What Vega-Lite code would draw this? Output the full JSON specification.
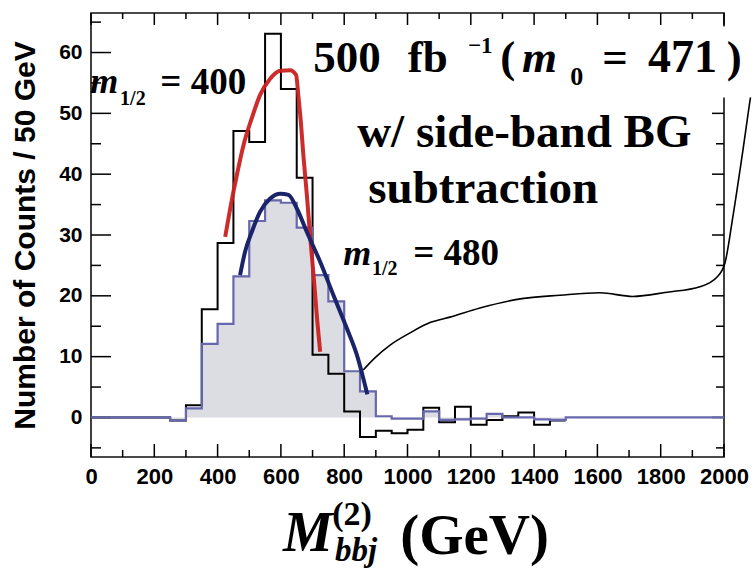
{
  "$schema": "https://vega.github.io/schema/vega-lite/v6.json",
  "width": 633,
  "height": 444,
  "autosize": {"type": "none"},
  "padding": {"left": 91, "top": 13, "right": 31, "bottom": 113},
  "background": "white",
  "config": {
    "view": {"stroke": "#111", "strokeWidth": 1.6, "fill": null},
    "scale": {"continuousPadding": 0},
    "axis": {"grid": false, "domain": false, "ticks": false,
      "labelFont": "Liberation Sans", "labelFontWeight": "bold", "labelColor": "black",
      "titleFont": "Liberation Sans", "titleFontWeight": "bold", "titleColor": "black",
      "labelOverlap": false, "labelFlush": false}
  },
  "datasets": {
    "blue": [
      {"mass": 0, "counts": 0}, {"mass": 250, "counts": -0.5}, {"mass": 300, "counts": 1.5}, {"mass": 350, "counts": 12.1},
      {"mass": 400, "counts": 15.4}, {"mass": 450, "counts": 23.2}, {"mass": 500, "counts": 32.3}, {"mass": 550, "counts": 35.7},
      {"mass": 600, "counts": 35.3}, {"mass": 650, "counts": 31.2}, {"mass": 700, "counts": 23.4}, {"mass": 750, "counts": 19.1},
      {"mass": 800, "counts": 7.6}, {"mass": 850, "counts": 4.3}, {"mass": 900, "counts": 0.2}, {"mass": 950, "counts": -0.2},
      {"mass": 1000, "counts": -0.2}, {"mass": 1050, "counts": 1.0}, {"mass": 1100, "counts": -0.4}, {"mass": 1150, "counts": -0.3},
      {"mass": 1200, "counts": -0.2}, {"mass": 1250, "counts": 0.6}, {"mass": 1300, "counts": 0}, {"mass": 1350, "counts": 0},
      {"mass": 1400, "counts": -0.3}, {"mass": 1450, "counts": -0.4}, {"mass": 1500, "counts": 0}, {"mass": 2000, "counts": 0}
    ],
    "black": [
      {"mass": 0, "counts": 0}, {"mass": 250, "counts": -0.5}, {"mass": 300, "counts": 2.0}, {"mass": 350, "counts": 17.8},
      {"mass": 400, "counts": 28.7}, {"mass": 450, "counts": 47.1}, {"mass": 500, "counts": 45.3}, {"mass": 550, "counts": 63.1},
      {"mass": 600, "counts": 54.0}, {"mass": 650, "counts": 39.4}, {"mass": 700, "counts": 10.3}, {"mass": 750, "counts": 7.2},
      {"mass": 800, "counts": 1.0}, {"mass": 850, "counts": -3.2}, {"mass": 900, "counts": -2.2}, {"mass": 950, "counts": -2.6},
      {"mass": 1000, "counts": -2.0}, {"mass": 1050, "counts": 1.6}, {"mass": 1100, "counts": -0.8}, {"mass": 1150, "counts": 1.75},
      {"mass": 1200, "counts": -1.2}, {"mass": 1250, "counts": -0.4}, {"mass": 1300, "counts": 0.2}, {"mass": 1350, "counts": 0.8},
      {"mass": 1400, "counts": -1.2}, {"mass": 1450, "counts": -0.5}, {"mass": 1500, "counts": -0.5}
    ],
    "fit400": [
      {"mass": 424, "counts": 29.7}, {"mass": 440, "counts": 34.4}, {"mass": 461, "counts": 39.9}, {"mass": 482, "counts": 44.8},
      {"mass": 508, "counts": 49.2}, {"mass": 534, "counts": 53.0}, {"mass": 566, "counts": 55.7}, {"mass": 598, "counts": 57.0},
      {"mass": 629, "counts": 57.1}, {"mass": 648, "counts": 56.3}, {"mass": 655, "counts": 53.0}, {"mass": 663, "counts": 48.6},
      {"mass": 671, "counts": 43.1}, {"mass": 682, "counts": 36.6}, {"mass": 692, "counts": 30.0}, {"mass": 705, "counts": 22.3},
      {"mass": 715, "counts": 15.8}, {"mass": 724, "counts": 10.8}
    ],
    "fit480": [
      {"mass": 471, "counts": 23.4}, {"mass": 487, "counts": 27.3}, {"mass": 508, "counts": 30.5}, {"mass": 534, "counts": 33.8},
      {"mass": 566, "counts": 36.0}, {"mass": 598, "counts": 36.8}, {"mass": 624, "counts": 36.6}, {"mass": 650, "counts": 34.4},
      {"mass": 682, "counts": 30.5}, {"mass": 724, "counts": 25.6}, {"mass": 766, "counts": 20.1}, {"mass": 808, "counts": 14.7},
      {"mass": 840, "counts": 10.3}, {"mass": 873, "counts": 3.8}
    ],
    "pointer": [
      {"mass": 860, "counts": 7.8}, {"mass": 897, "counts": 9.8}, {"mass": 945, "counts": 11.9}, {"mass": 1008, "counts": 13.9},
      {"mass": 1071, "counts": 15.6}, {"mass": 1134, "counts": 16.5}, {"mass": 1229, "counts": 18.0}, {"mass": 1356, "counts": 19.5},
      {"mass": 1482, "counts": 20.1}, {"mass": 1608, "counts": 20.5}, {"mass": 1712, "counts": 19.9}, {"mass": 1820, "counts": 20.6},
      {"mass": 1924, "counts": 21.5}, {"mass": 1978, "counts": 23.1}, {"mass": 2003, "counts": 25.4}, {"mass": 2028, "counts": 33.0},
      {"mass": 2060, "counts": 44.0}, {"mass": 2089, "counts": 54.3}, {"mass": 2098, "counts": 56.8}
    ],
    "xmajor": [{"mass": 0}, {"mass": 200}, {"mass": 400}, {"mass": 600}, {"mass": 800}, {"mass": 1000}, {"mass": 1200}, {"mass": 1400}, {"mass": 1600}, {"mass": 1800}, {"mass": 2000}],
    "xminor": [{"mass": 100}, {"mass": 300}, {"mass": 500}, {"mass": 700}, {"mass": 900}, {"mass": 1100}, {"mass": 1300}, {"mass": 1500}, {"mass": 1700}, {"mass": 1900}],
    "ymajor": [{"counts": 0}, {"counts": 10}, {"counts": 20}, {"counts": 30}, {"counts": 40}, {"counts": 50}, {"counts": 60}],
    "yminor": [{"counts": -5}, {"counts": 5}, {"counts": 15}, {"counts": 25}, {"counts": 35}, {"counts": 45}, {"counts": 55}, {"counts": 65}],
    "yrmajor": [{"counts": 0}, {"counts": 10}, {"counts": 20}, {"counts": 30}, {"counts": 40}, {"counts": 50}],
    "yrminor": [{"counts": -5}, {"counts": 5}, {"counts": 15}, {"counts": 25}, {"counts": 35}, {"counts": 45}]
  },
  "layer": [
    {
      "data": {"name": "blue"},
      "mark": {"type": "area", "interpolate": "step-after", "color": "#dcdce3", "opacity": 1},
      "encoding": {
        "x": {"field": "mass", "type": "quantitative", "scale": {"domain": [0, 2000], "nice": false, "zero": false, "padding": 0},
          "axis": {"orient": "bottom", "title": null, "format": "d",
            "values": [0,200,400,600,800,1000,1200,1400,1600,1800,2000],
            "labelPadding": 9, "labelFontSize": 22}},
        "y": {"field": "counts", "type": "quantitative", "scale": {"domain": [-6.5, 66.5], "nice": false, "zero": false, "padding": 0},
          "axis": {"orient": "left", "title": "Number of Counts / 50 GeV", "titleFontSize": 30, "titlePadding": 18,
            "values": [0,10,20,30,40,50,60],
            "labelPadding": 9, "labelFontSize": 21}},
        "y2": {"datum": 0}
      }
    },
    {
      "data": {"name": "xmajor"},
      "mark": {"type": "bar", "color": "black", "width": 1.5},
      "encoding": {"x": {"field": "mass", "type": "quantitative"}, "y": {"datum": -6.5, "type": "quantitative"}, "y2": {"datum": -4.37}}
    },
    {
      "data": {"name": "xmajor"},
      "mark": {"type": "bar", "color": "black", "width": 1.5},
      "encoding": {"x": {"field": "mass", "type": "quantitative"}, "y": {"datum": 66.5, "type": "quantitative"}, "y2": {"datum": 64.53}}
    },
    {
      "data": {"name": "xminor"},
      "mark": {"type": "bar", "color": "black", "width": 1.5},
      "encoding": {"x": {"field": "mass", "type": "quantitative"}, "y": {"datum": -6.5, "type": "quantitative"}, "y2": {"datum": -5.35}}
    },
    {
      "data": {"name": "xminor"},
      "mark": {"type": "bar", "color": "black", "width": 1.5},
      "encoding": {"x": {"field": "mass", "type": "quantitative"}, "y": {"datum": 66.5, "type": "quantitative"}, "y2": {"datum": 65.51}}
    },
    {
      "data": {"name": "ymajor"},
      "mark": {"type": "bar", "color": "black", "height": 1.5, "orient": "horizontal"},
      "encoding": {"y": {"field": "counts", "type": "quantitative"}, "x": {"datum": 0, "type": "quantitative"}, "x2": {"datum": 63.2}}
    },
    {
      "data": {"name": "yminor"},
      "mark": {"type": "bar", "color": "black", "height": 1.5, "orient": "horizontal"},
      "encoding": {"y": {"field": "counts", "type": "quantitative"}, "x": {"datum": 0, "type": "quantitative"}, "x2": {"datum": 31.6}}
    },
    {
      "data": {"name": "yrmajor"},
      "mark": {"type": "bar", "color": "black", "height": 1.5, "orient": "horizontal"},
      "encoding": {"y": {"field": "counts", "type": "quantitative"}, "x": {"datum": 1962, "type": "quantitative"}, "x2": {"datum": 2000}}
    },
    {
      "data": {"name": "yrminor"},
      "mark": {"type": "bar", "color": "black", "height": 1.5, "orient": "horizontal"},
      "encoding": {"y": {"field": "counts", "type": "quantitative"}, "x": {"datum": 1974.7, "type": "quantitative"}, "x2": {"datum": 2000}}
    },
    {
      "data": {"name": "black"},
      "mark": {"type": "line", "interpolate": "step-after", "color": "#000000", "strokeWidth": 2},
      "encoding": {
        "x": {"field": "mass", "type": "quantitative"},
        "y": {"field": "counts", "type": "quantitative"}
      }
    },
    {
      "data": {"name": "blue"},
      "mark": {"type": "line", "interpolate": "step-after", "color": "#6767ad", "strokeWidth": 2.2},
      "encoding": {
        "x": {"field": "mass", "type": "quantitative"},
        "y": {"field": "counts", "type": "quantitative"}
      }
    },
    {
      "data": {"name": "fit400"},
      "mark": {"type": "line", "interpolate": "monotone", "color": "#c9211f", "strokeWidth": 4, "opacity": 0.95},
      "encoding": {
        "x": {"field": "mass", "type": "quantitative"},
        "y": {"field": "counts", "type": "quantitative"}
      }
    },
    {
      "data": {"name": "fit480"},
      "mark": {"type": "line", "interpolate": "monotone", "color": "#1b2468", "strokeWidth": 4},
      "encoding": {
        "x": {"field": "mass", "type": "quantitative"},
        "y": {"field": "counts", "type": "quantitative"}
      }
    },
    {
      "data": {"name": "pointer"},
      "mark": {"type": "line", "interpolate": "monotone", "color": "#000000", "strokeWidth": 1.6},
      "encoding": {
        "x": {"field": "mass", "type": "quantitative"},
        "y": {"field": "counts", "type": "quantitative"}
      }
    },
    {
      "data": {"values": [{"label": "mask"}]},
      "mark": {"type": "rect", "color": "white"},
      "encoding": {
        "x": {"datum": 1990, "type": "quantitative"},
        "x2": {"datum": 2110},
        "y": {"datum": 52.6, "type": "quantitative"},
        "y2": {"datum": 64.3}
      }
    },
    {
      "data": {"values": [{"label": "500"}]},
      "mark": {"type": "text", "font": "Liberation Serif", "fontWeight": "bold", "fontSize": 45, "align": "left", "baseline": "alphabetic", "color": "black"},
      "encoding": {"x": {"datum": 702, "type": "quantitative"}, "y": {"datum": 56.8, "type": "quantitative"}, "text": {"field": "label"}}
    },
    {
      "data": {"values": [{"label": "fb"}]},
      "mark": {"type": "text", "font": "Liberation Serif", "fontWeight": "bold", "fontSize": 45, "align": "left", "baseline": "alphabetic", "color": "black"},
      "encoding": {"x": {"datum": 1001, "type": "quantitative"}, "y": {"datum": 56.8, "type": "quantitative"}, "text": {"field": "label"}}
    },
    {
      "data": {"values": [{"label": "−1"}]},
      "mark": {"type": "text", "font": "Liberation Serif", "fontWeight": "bold", "fontSize": 23, "align": "left", "baseline": "alphabetic", "color": "black"},
      "encoding": {"x": {"datum": 1191, "type": "quantitative"}, "y": {"datum": 59.9, "type": "quantitative"}, "text": {"field": "label"}}
    },
    {
      "data": {"values": [{"label": "("}]},
      "mark": {"type": "text", "font": "Liberation Serif", "fontWeight": "bold", "fontSize": 45, "align": "left", "baseline": "alphabetic", "color": "black"},
      "encoding": {"x": {"datum": 1293, "type": "quantitative"}, "y": {"datum": 56.8, "type": "quantitative"}, "text": {"field": "label"}}
    },
    {
      "data": {"values": [{"label": "m"}]},
      "mark": {"type": "text", "font": "Liberation Serif", "fontWeight": "bold", "fontStyle": "italic", "fontSize": 45, "align": "left", "baseline": "alphabetic", "color": "black"},
      "encoding": {"x": {"datum": 1362, "type": "quantitative"}, "y": {"datum": 56.8, "type": "quantitative"}, "text": {"field": "label"}}
    },
    {
      "data": {"values": [{"label": "0"}]},
      "mark": {"type": "text", "font": "Liberation Serif", "fontWeight": "bold", "fontSize": 26, "align": "left", "baseline": "alphabetic", "color": "black"},
      "encoding": {"x": {"datum": 1514, "type": "quantitative"}, "y": {"datum": 54.6, "type": "quantitative"}, "text": {"field": "label"}}
    },
    {
      "data": {"values": [{"label": "="}]},
      "mark": {"type": "text", "font": "Liberation Serif", "fontWeight": "bold", "fontSize": 45, "align": "left", "baseline": "alphabetic", "color": "black"},
      "encoding": {"x": {"datum": 1615, "type": "quantitative"}, "y": {"datum": 56.8, "type": "quantitative"}, "text": {"field": "label"}}
    },
    {
      "data": {"values": [{"label": "471"}]},
      "mark": {"type": "text", "font": "Liberation Serif", "fontWeight": "bold", "fontSize": 46, "align": "left", "baseline": "alphabetic", "color": "black"},
      "encoding": {"x": {"datum": 1760, "type": "quantitative"}, "y": {"datum": 56.8, "type": "quantitative"}, "text": {"field": "label"}}
    },
    {
      "data": {"values": [{"label": ")"}]},
      "mark": {"type": "text", "font": "Liberation Serif", "fontWeight": "bold", "fontSize": 45, "align": "left", "baseline": "alphabetic", "color": "black"},
      "encoding": {"x": {"datum": 2009, "type": "quantitative"}, "y": {"datum": 56.8, "type": "quantitative"}, "text": {"field": "label"}}
    },
    {
      "data": {"values": [{"label": "w/ side-band BG"}]},
      "mark": {"type": "text", "font": "Liberation Serif", "fontWeight": "bold", "fontSize": 47, "align": "left", "baseline": "alphabetic", "color": "black"},
      "encoding": {"x": {"datum": 841, "type": "quantitative"}, "y": {"datum": 44.45, "type": "quantitative"}, "text": {"field": "label"}}
    },
    {
      "data": {"values": [{"label": "subtraction"}]},
      "mark": {"type": "text", "font": "Liberation Serif", "fontWeight": "bold", "fontSize": 47, "align": "left", "baseline": "alphabetic", "color": "black"},
      "encoding": {"x": {"datum": 876, "type": "quantitative"}, "y": {"datum": 35.26, "type": "quantitative"}, "text": {"field": "label"}}
    },
    {
      "data": {"values": [{"label": "m"}]},
      "mark": {"type": "text", "font": "Liberation Serif", "fontWeight": "bold", "fontStyle": "italic", "fontSize": 36, "align": "left", "baseline": "alphabetic", "color": "black"},
      "encoding": {"x": {"datum": -2.5, "type": "quantitative"}, "y": {"datum": 53.4, "type": "quantitative"}, "text": {"field": "label"}}
    },
    {
      "data": {"values": [{"label": "1/2"}]},
      "mark": {"type": "text", "font": "Liberation Serif", "fontWeight": "bold", "fontSize": 20, "align": "left", "baseline": "alphabetic", "color": "black"},
      "encoding": {"x": {"datum": 92, "type": "quantitative"}, "y": {"datum": 51.3, "type": "quantitative"}, "text": {"field": "label"}}
    },
    {
      "data": {"values": [{"label": "= 400"}]},
      "mark": {"type": "text", "font": "Liberation Serif", "fontWeight": "bold", "fontSize": 37, "align": "left", "baseline": "alphabetic", "color": "black"},
      "encoding": {"x": {"datum": 219, "type": "quantitative"}, "y": {"datum": 53.2, "type": "quantitative"}, "text": {"field": "label"}}
    },
    {
      "data": {"values": [{"label": "m"}]},
      "mark": {"type": "text", "font": "Liberation Serif", "fontWeight": "bold", "fontStyle": "italic", "fontSize": 36, "align": "left", "baseline": "alphabetic", "color": "black"},
      "encoding": {"x": {"datum": 797, "type": "quantitative"}, "y": {"datum": 25.1, "type": "quantitative"}, "text": {"field": "label"}}
    },
    {
      "data": {"values": [{"label": "1/2"}]},
      "mark": {"type": "text", "font": "Liberation Serif", "fontWeight": "bold", "fontSize": 20, "align": "left", "baseline": "alphabetic", "color": "black"},
      "encoding": {"x": {"datum": 888, "type": "quantitative"}, "y": {"datum": 23.4, "type": "quantitative"}, "text": {"field": "label"}}
    },
    {
      "data": {"values": [{"label": "= 480"}]},
      "mark": {"type": "text", "font": "Liberation Serif", "fontWeight": "bold", "fontSize": 37, "align": "left", "baseline": "alphabetic", "color": "black"},
      "encoding": {"x": {"datum": 1018, "type": "quantitative"}, "y": {"datum": 25.1, "type": "quantitative"}, "text": {"field": "label"}}
    },
    {
      "data": {"values": [{"label": "M"}]},
      "mark": {"type": "text", "font": "Liberation Serif", "fontWeight": "bold", "fontStyle": "italic", "fontSize": 56, "align": "left", "baseline": "alphabetic", "color": "black"},
      "encoding": {"x": {"datum": 607, "type": "quantitative"}, "y": {"datum": -22.0, "type": "quantitative"}, "text": {"field": "label"}}
    },
    {
      "data": {"values": [{"label": "(2)"}]},
      "mark": {"type": "text", "font": "Liberation Serif", "fontWeight": "bold", "fontSize": 34, "align": "left", "baseline": "alphabetic", "color": "black"},
      "encoding": {"x": {"datum": 762, "type": "quantitative"}, "y": {"datum": -17.7, "type": "quantitative"}, "text": {"field": "label"}}
    },
    {
      "data": {"values": [{"label": "bbj"}]},
      "mark": {"type": "text", "font": "Liberation Serif", "fontWeight": "bold", "fontStyle": "italic", "fontSize": 33, "align": "left", "baseline": "alphabetic", "color": "black"},
      "encoding": {"x": {"datum": 771, "type": "quantitative"}, "y": {"datum": -23.6, "type": "quantitative"}, "text": {"field": "label"}}
    },
    {
      "data": {"values": [{"label": "(GeV)"}]},
      "mark": {"type": "text", "font": "Liberation Serif", "fontWeight": "bold", "fontSize": 57, "align": "left", "baseline": "alphabetic", "color": "black"},
      "encoding": {"x": {"datum": 977, "type": "quantitative"}, "y": {"datum": -22.5, "type": "quantitative"}, "text": {"field": "label"}}
    }
  ]
}
